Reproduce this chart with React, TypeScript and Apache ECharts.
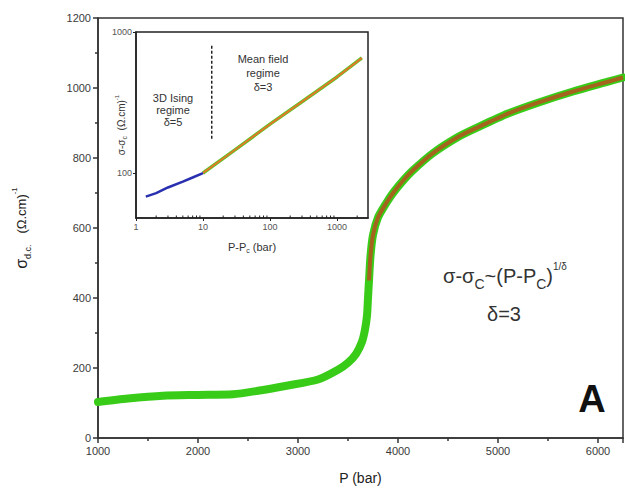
import React, { useEffect, useRef } from "react";
import * as echarts from "echarts";

// Main curve: pressure (bar) vs conductivity (Ω.cm)^-1
const pressure = [1000, 1300, 1650, 2000, 2350, 2600, 2900, 3200, 3400, 3500, 3580, 3640, 3670, 3690, 3700, 3710, 3725, 3750, 3800, 3880, 3950, 4050, 4150, 4350, 4600, 4800, 5100, 5400, 5750, 6100, 6250];
const sigma = [103, 113, 121, 123, 125, 135, 150, 167, 195, 215, 240, 275, 310, 350, 400, 450, 520, 580, 630, 670, 700, 735, 765, 814, 860, 888, 927, 958, 990, 1018, 1030];
const fitStartP = 3710;

// Inset (log-log): P-Pc vs sigma-sigma_c
const isingX = [1.4, 2, 3, 5, 7, 10];
const isingY = [68, 72, 79, 87, 93, 100];
const meanX = [10, 30, 100, 300, 1000, 2350];
const meanY = [100, 146, 222, 320, 480, 655];
const dashX = [13.5, 13.5];
const dashY = [175, 800];
const insetMinorTicks = [2, 3, 4, 5, 6, 7, 8, 9, 20, 30, 40, 50, 60, 70, 80, 90, 200, 300, 400, 500, 600, 700, 800, 900, 2000];

const mainXTicks = { min: 1000, max: 6250, interval: 1000 };
const mainYTicks = { min: 0, max: 1200, interval: 200 };
const insetX = { min: 1, max: 2900 };
const insetY = { min: 48, max: 1000 };

const FONT = "Liberation Sans, Arial, sans-serif";
const plain = (v: number) => String(v);

export default function App() {
  const ref = useRef<HTMLDivElement>(null);
  useEffect(() => {
    if (!ref.current) return;
    const chart = echarts.init(ref.current, undefined, { renderer: "svg" });
    const mainData = pressure.map((p, i) => [p, sigma[i]]);
    const fitData = mainData.filter((d) => d[0] >= fitStartP);
    const ising = isingX.map((x, i) => [x, isingY[i]]);
    const mean = meanX.map((x, i) => [x, meanY[i]]);
    const dash = dashX.map((x, i) => [x, dashY[i]]);

    chart.setOption({
      animation: false,
      backgroundColor: "#fff",
      textStyle: { fontFamily: FONT },
      grid: [
        { left: 98, right: 2, top: 18, bottom: 62, show: true, borderColor: "#333", borderWidth: 1.5, z: 0 },
        { left: 136, top: 32, width: 232, height: 186, show: true, backgroundColor: "#fff", borderColor: "#222", borderWidth: 1.5, z: 5 },
      ],
      xAxis: [
        {
          type: "value", gridIndex: 0, ...mainXTicks,
          splitLine: { show: false },
          axisLine: { lineStyle: { color: "#333", width: 1.5 } },
          axisTick: { length: 5, lineStyle: { color: "#333", width: 1.5 } },
          minorTick: { show: true, splitNumber: 2, length: 3, lineStyle: { color: "#333", width: 1.5 } },
          axisLabel: { color: "#3a3a3a", fontSize: 11, margin: 7, showMaxLabel: false, fontFamily: FONT, formatter: plain },
          name: "P (bar)", nameLocation: "middle", nameGap: 33, nameMoveOverlap: false,
          nameTextStyle: { fontSize: 14, color: "#222", fontFamily: FONT },
        },
        {
          type: "log", gridIndex: 1, logBase: 10, ...insetX, z: 6,
          splitLine: { show: false },
          axisLine: { lineStyle: { color: "#222", width: 1.5 } },
          axisTick: { length: 3, lineStyle: { color: "#222" } },
          axisLabel: { color: "#555", fontSize: 9, margin: 4, showMaxLabel: false, fontFamily: FONT, formatter: plain },
          name: "P-P{sub|c} (bar)", nameLocation: "middle", nameGap: 22, nameMoveOverlap: false,
          nameTextStyle: {
            fontSize: 11, color: "#333", fontFamily: FONT, lineHeight: 14,
            rich: { sub: { fontSize: 7, verticalAlign: "bottom", lineHeight: 8, fontFamily: FONT, color: "#333" } },
          },
        },
      ],
      yAxis: [
        {
          type: "value", gridIndex: 0, ...mainYTicks,
          splitLine: { show: false },
          axisLine: { lineStyle: { color: "#333", width: 1.5 } },
          axisTick: { length: 5, lineStyle: { color: "#333", width: 1.5 } },
          minorTick: { show: true, splitNumber: 2, length: 3, lineStyle: { color: "#333", width: 1.5 } },
          axisLabel: { color: "#3a3a3a", fontSize: 11, margin: 7, fontFamily: FONT, formatter: plain },
          name: "{s|σ}{sub|d.c.}   {m|(Ω.cm)}{sup|-1}", nameLocation: "middle", nameRotate: 90, nameGap: 66, nameMoveOverlap: false,
          nameTextStyle: {
            color: "#222", fontFamily: FONT, fontSize: 13,
            rich: {
              s: { fontSize: 16, lineHeight: 22, color: "#222", fontFamily: FONT },
              sub: { fontSize: 9, lineHeight: 12, verticalAlign: "bottom", color: "#222", fontFamily: FONT },
              m: { fontSize: 13, lineHeight: 22, color: "#222", fontFamily: FONT },
              sup: { fontSize: 8, lineHeight: 10, verticalAlign: "top", color: "#222", fontFamily: FONT },
            },
          },
        },
        {
          type: "log", gridIndex: 1, logBase: 10, ...insetY, z: 6,
          splitLine: { show: false },
          axisLine: { lineStyle: { color: "#222", width: 1.5 } },
          axisTick: { length: 3, lineStyle: { color: "#222" } },
          axisLabel: { color: "#555", fontSize: 9, margin: 4, showMinLabel: false, fontFamily: FONT, formatter: plain },
          name: "{s|σ-σ}{sub|c}  {m|(Ω.cm)}{sup|-1}", nameLocation: "middle", nameRotate: 90, nameGap: 8, nameMoveOverlap: false,
          nameTextStyle: {
            color: "#333", fontFamily: FONT, fontSize: 10,
            rich: {
              s: { fontSize: 10, lineHeight: 14, color: "#333", fontFamily: FONT },
              sub: { fontSize: 7, lineHeight: 8, verticalAlign: "bottom", color: "#333", fontFamily: FONT },
              m: { fontSize: 10, lineHeight: 14, color: "#333", fontFamily: FONT },
              sup: { fontSize: 6, lineHeight: 7, verticalAlign: "top", color: "#333", fontFamily: FONT },
            },
          },
        },
      ],
      series: [
        {
          type: "line", xAxisIndex: 0, yAxisIndex: 0, data: mainData, showSymbol: false,
          smooth: 0.25, lineStyle: { color: "#38cc18", width: 8, cap: "round", join: "round" }, z: 2,
        },
        {
          type: "line", xAxisIndex: 0, yAxisIndex: 0, data: fitData, showSymbol: false,
          smooth: 0.25, lineStyle: { color: "#a4641e", width: 4 }, z: 3,
        },
        {
          type: "line", xAxisIndex: 1, yAxisIndex: 1, data: mean, showSymbol: false,
          lineStyle: { color: "#5cc628", width: 3.5 }, z: 7,
        },
        {
          type: "line", xAxisIndex: 1, yAxisIndex: 1, data: mean, showSymbol: false,
          lineStyle: { color: "#e8742a", width: 1.8 }, z: 8,
        },
        {
          type: "line", xAxisIndex: 1, yAxisIndex: 1, data: ising, showSymbol: false,
          lineStyle: { color: "#2830b0", width: 2.5 }, z: 8,
        },
        {
          type: "line", xAxisIndex: 1, yAxisIndex: 1, data: dash, showSymbol: false,
          lineStyle: { color: "#222", width: 1.5, type: [3, 2] }, z: 8,
        },
        {
          type: "custom", xAxisIndex: 1, yAxisIndex: 1, z: 8, clip: false,
          data: insetMinorTicks.map((v) => [v, insetY.min]),
          renderItem: (params: any, api: any) => {
            const p = api.coord([api.value(0), api.value(1)]);
            return {
              type: "line",
              shape: { x1: p[0], y1: p[1], x2: p[0], y2: p[1] - 2.5 },
              style: { stroke: "#222", lineWidth: 1 },
            };
          },
        },
      ],
      graphic: [
        {
          type: "text", x: 173, y: 92, z: 10,
          style: { text: "3D Ising\nregime\nδ=5", fontSize: 11, lineHeight: 12, fill: "#333", align: "center", verticalAlign: "top", fontFamily: FONT },
        },
        {
          type: "text", x: 263, y: 52, z: 10,
          style: { text: "Mean field\nregime\nδ=3", fontSize: 11, lineHeight: 14, fill: "#333", align: "center", verticalAlign: "top", fontFamily: FONT },
        },
        {
          type: "text", x: 505, y: 276, z: 10,
          style: {
            text: "σ-σ{sub|C}~(P-P{sub|C}){sup|1/δ}",
            fontSize: 20, fill: "#333", align: "center", verticalAlign: "middle", fontFamily: FONT,
            rich: {
              sub: { fontSize: 14, lineHeight: 30, verticalAlign: "bottom", fill: "#333", fontFamily: FONT },
              sup: { fontSize: 10, lineHeight: 12, verticalAlign: "top", fill: "#333", fontFamily: FONT },
            },
          },
        },
        {
          type: "text", x: 504, y: 314, z: 10,
          style: { text: "δ=3", fontSize: 20, fill: "#333", align: "center", verticalAlign: "middle", fontFamily: FONT },
        },
        {
          type: "text", x: 592, y: 399, z: 10,
          style: { text: "A", fontSize: 38, fontWeight: "bold", fill: "#111", align: "center", verticalAlign: "middle", fontFamily: FONT },
        },
      ],
    });
    return () => chart.dispose();
  }, []);
  return <div ref={ref} style={{ position: "fixed", left: 0, top: 0, width: 625, height: 500 }} />;
}
